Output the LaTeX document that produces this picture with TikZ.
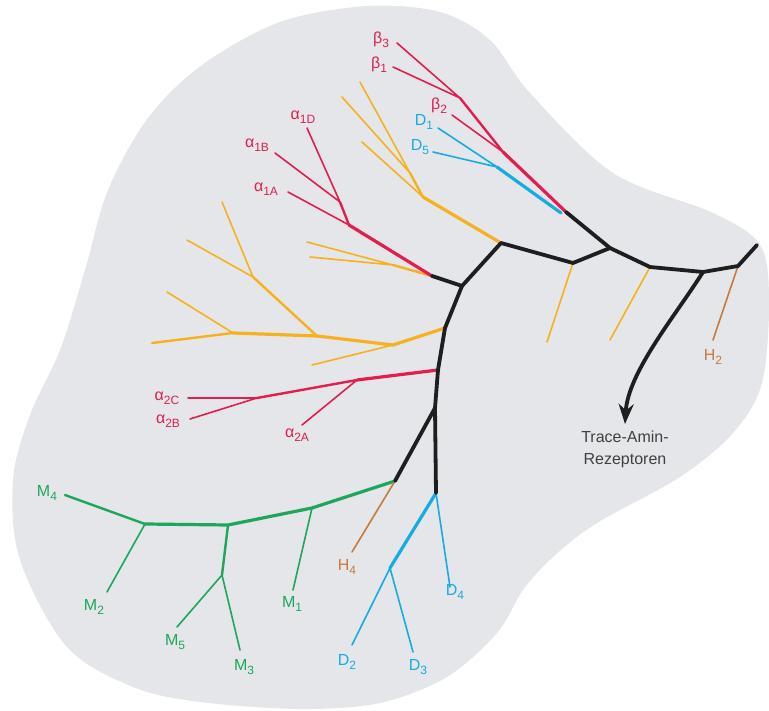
\documentclass[tikz,border=0pt]{standalone}
\usepackage{fontspec}
\setmainfont{Liberation Sans}
\usetikzlibrary{arrows.meta}

\definecolor{blobgray}{RGB}{229,230,233}
\definecolor{adrred}{RGB}{226,30,78}
\definecolor{dopblue}{RGB}{22,172,226}
\definecolor{musgreen}{RGB}{30,166,92}
\definecolor{serorange}{RGB}{246,178,30}
\definecolor{hisbrown}{RGB}{198,122,62}
\definecolor{trunkblack}{RGB}{30,30,32}

\newcommand{\lsub}[1]{\raisebox{-0.45ex}{\fontsize{12}{12}\selectfont #1}}

\begin{document}
\begin{tikzpicture}[x=1pt, y=-1pt, line cap=round, line join=round,
    stem/.style={line width=3.2pt},
    limb/.style={line width=2.4pt},
    twig/.style={line width=1.6pt},
    trunk/.style={draw=trunkblack, line width=3.8pt},
    adr/.style={draw=adrred},
    dop/.style={draw=dopblue},
    mus/.style={draw=musgreen},
    ser/.style={draw=serorange},
    his/.style={draw=hisbrown},
    lab/.style={font=\fontsize{16}{18}\selectfont, inner sep=0pt}]

  \useasboundingbox (0,0) rectangle (769,711);

  \fill[blobgray] plot[smooth cycle, tension=0.55] coordinates {
    (367,6) (440,12) (490,40) (530,93) (613,173) (713,213) (760,245)
    (769,300) (762,383) (733,433) (680,477) (597,523) (553,557)
    (523,590) (497,633) (447,677) (380,703) (300,709) (200,702)
    (133,687) (67,647) (20,560) (13,480) (30,415) (60,350) (85,270)
    (108,190) (148,118) (202,65) (280,22)};

  % junctions of the black tree
  \coordinate (a1e)  at (432,276);
  \coordinate (Ja)   at (462,286);
  \coordinate (Jb)   at (501,243);
  \coordinate (Jc)   at (573,263);
  \coordinate (Jd)   at (610,248);
  \coordinate (Je)   at (650,267);
  \coordinate (Jf)   at (703,272);
  \coordinate (Jg)   at (738,266);
  \coordinate (Jtop) at (757,245);
  \coordinate (bde)  at (566,212);
  \coordinate (Ta)   at (445,328);
  \coordinate (Tb)   at (438,370);
  \coordinate (Jh)   at (435,408);
  \coordinate (Tm)   at (395,481);
  \coordinate (Td)   at (436,493);
  \coordinate (tar)  at (625,424);

  % beta and D1/D5
  \coordinate (Rb2)  at (503,152);
  \coordinate (Rb13) at (460,98);
  \coordinate (tb3)  at (397,43);
  \coordinate (tb1)  at (393,67);
  \coordinate (tb2)  at (452,115);
  \coordinate (bde2) at (561,213);
  \coordinate (Bd)   at (497,167);
  \coordinate (td1)  at (438,128);
  \coordinate (td5)  at (433,152);

  % alpha1
  \coordinate (Ra)   at (349,225);
  \coordinate (Rb)   at (340,202);
  \coordinate (ta1d) at (307,128);
  \coordinate (ta1b) at (275,153);
  \coordinate (ta1a) at (288,192);

  % orange groups
  \coordinate (O5)   at (423,197);
  \coordinate (O6)   at (410,173);
  \coordinate (to1)  at (360,82);
  \coordinate (to2)  at (342,97);
  \coordinate (to3)  at (362,142);
  \coordinate (Oj)   at (393,265);
  \coordinate (to4)  at (307,242);
  \coordinate (to5)  at (310,257);
  \coordinate (O1)   at (393,345);
  \coordinate (O2)   at (317,336);
  \coordinate (O3)   at (233,333);
  \coordinate (O4)   at (253,277);
  \coordinate (to6)  at (152,343);
  \coordinate (to7)  at (312,365);
  \coordinate (to8)  at (222,202);
  \coordinate (to9)  at (187,240);
  \coordinate (to10) at (167,292);
  \coordinate (to11) at (547,342);
  \coordinate (to12) at (610,340);

  % alpha2
  \coordinate (Rc)   at (357,380);
  \coordinate (Rd)   at (257,398);
  \coordinate (ta2c) at (188,398);
  \coordinate (ta2b) at (190,419);
  \coordinate (ta2a) at (302,425);

  % muscarinic, H4, dopamine D2-like, H2
  \coordinate (G1)   at (312,508);
  \coordinate (G2)   at (228,525);
  \coordinate (G3)   at (145,524);
  \coordinate (G4)   at (222,575);
  \coordinate (tm4)  at (65,495);
  \coordinate (tm1)  at (293,590);
  \coordinate (tm2)  at (107,592);
  \coordinate (tm5)  at (177,627);
  \coordinate (tm3)  at (240,650);
  \coordinate (th4)  at (352,552);
  \coordinate (Dj)   at (390,568);
  \coordinate (td2)  at (352,645);
  \coordinate (td3)  at (413,652);
  \coordinate (td4)  at (450,587);
  \coordinate (th2)  at (713,340);

  \node[lab, adrred]    (lb3)  at (381,40)  {β\lsub{3}};
  \node[lab, adrred]    (lb1)  at (379,65)  {β\lsub{1}};
  \node[lab, adrred]    (lb2)  at (439,106) {β\lsub{2}};
  \node[lab, dopblue]   (ld1)  at (424,122) {D\lsub{1}};
  \node[lab, dopblue]   (ld5)  at (420,147) {D\lsub{5}};
  \node[lab, adrred]    (la1d) at (303,117) {α\lsub{1D}};
  \node[lab, adrred]    (la1b) at (257,145) {α\lsub{1B}};
  \node[lab, adrred]    (la1a) at (266,189) {α\lsub{1A}};
  \node[lab, adrred]    (la2c) at (167,398) {α\lsub{2C}};
  \node[lab, adrred]    (la2b) at (168,421) {α\lsub{2B}};
  \node[lab, adrred]    (la2a) at (297,435) {α\lsub{2A}};
  \node[lab, musgreen]  (lm4)  at (47,493)  {M\lsub{4}};
  \node[lab, musgreen]  (lm2)  at (94,607)  {M\lsub{2}};
  \node[lab, musgreen]  (lm5)  at (175,642) {M\lsub{5}};
  \node[lab, musgreen]  (lm3)  at (244,667) {M\lsub{3}};
  \node[lab, musgreen]  (lm1)  at (292,604) {M\lsub{1}};
  \node[lab, hisbrown]  (lh4)  at (347,567) {H\lsub{4}};
  \node[lab, hisbrown]  (lh2)  at (713,357) {H\lsub{2}};
  \node[lab, dopblue]   (ld2)  at (347,662) {D\lsub{2}};
  \node[lab, dopblue]   (ld3)  at (418,667) {D\lsub{3}};
  \node[lab, dopblue]   (ld4)  at (455,592) {D\lsub{4}};
  \node[lab, black!75, align=center, font=\fontsize{16}{22}\selectfont]
                        (ltar) at (625,449) {Trace-Amin-\\Rezeptoren};

  % coloured branches
  \draw[dop, stem] (bde2) -- (Bd);
  \draw[dop, twig] (Bd) -- (td1)  (Bd) -- (td5);
  \draw[adr, stem] (bde) -- (Rb2);
  \draw[adr, limb] (Rb2) -- (Rb13);
  \draw[adr, twig] (Rb13) -- (tb3)  (Rb13) -- (tb1)  (Rb2) -- (tb2);

  \draw[ser, stem] (Jb) -- (O5);
  \draw[ser, limb] (O5) -- (O6);
  \draw[ser, twig] (O6) -- (to1)  (O6) -- (to2)  (O5) -- (to3);

  \draw[ser, limb] (a1e) -- (Oj);
  \draw[ser, twig] (Oj) -- (to4)  (Oj) -- (to5);
  \draw[adr, stem] (a1e) -- (Ra);
  \draw[adr, limb] (Ra) -- (Rb);
  \draw[adr, twig] (Rb) -- (ta1d)  (Rb) -- (ta1b)  (Ra) -- (ta1a);

  \draw[ser, stem] (Ta) -- (O1) -- (O2) -- (O3);
  \draw[ser, limb] (O2) -- (O4)  (O3) -- (to6);
  \draw[ser, twig] (O1) -- (to7)  (O4) -- (to8)  (O4) -- (to9)  (O3) -- (to10);
  \draw[ser, twig] (Jc) -- (to11)  (Je) -- (to12);

  \draw[adr, stem] (Tb) -- (Rc);
  \draw[adr, limb] (Rc) -- (Rd);
  \draw[adr, twig] (Rd) -- (ta2c)  (Rd) -- (ta2b)  (Rc) -- (ta2a);

  \draw[mus, stem] (Tm) -- (G1) -- (G2) -- (G3);
  \draw[mus, limb] (G3) -- (tm4)  (G2) -- (G4);
  \draw[mus, twig] (G1) -- (tm1)  (G3) -- (tm2)  (G4) -- (tm5)  (G4) -- (tm3);
  \draw[his, twig] (Tm) -- (th4)  (Jg) -- (th2);

  \draw[dop, stem] (Td) -- (Dj);
  \draw[dop, twig] (Dj) -- (td2)  (Dj) -- (td3)  (Td) -- (td4);

  % black tree
  \draw[trunk] (a1e) -- (Ja) -- (Jb) -- (Jc) -- (Jd) -- (Je) -- (Jf) -- (Jg) -- (Jtop);
  \draw[trunk] (Jd) -- (bde);
  \draw[trunk] (Ja) -- (Ta) -- (Tb) -- (Jh) -- (Td);
  \draw[trunk] (Jh) -- (Tm);
  \draw[trunk, -{Stealth[length=20pt, width=15pt]}]
    (Jf) .. controls (676,315) and (628,372) .. (tar);

\end{tikzpicture}
\end{document}
